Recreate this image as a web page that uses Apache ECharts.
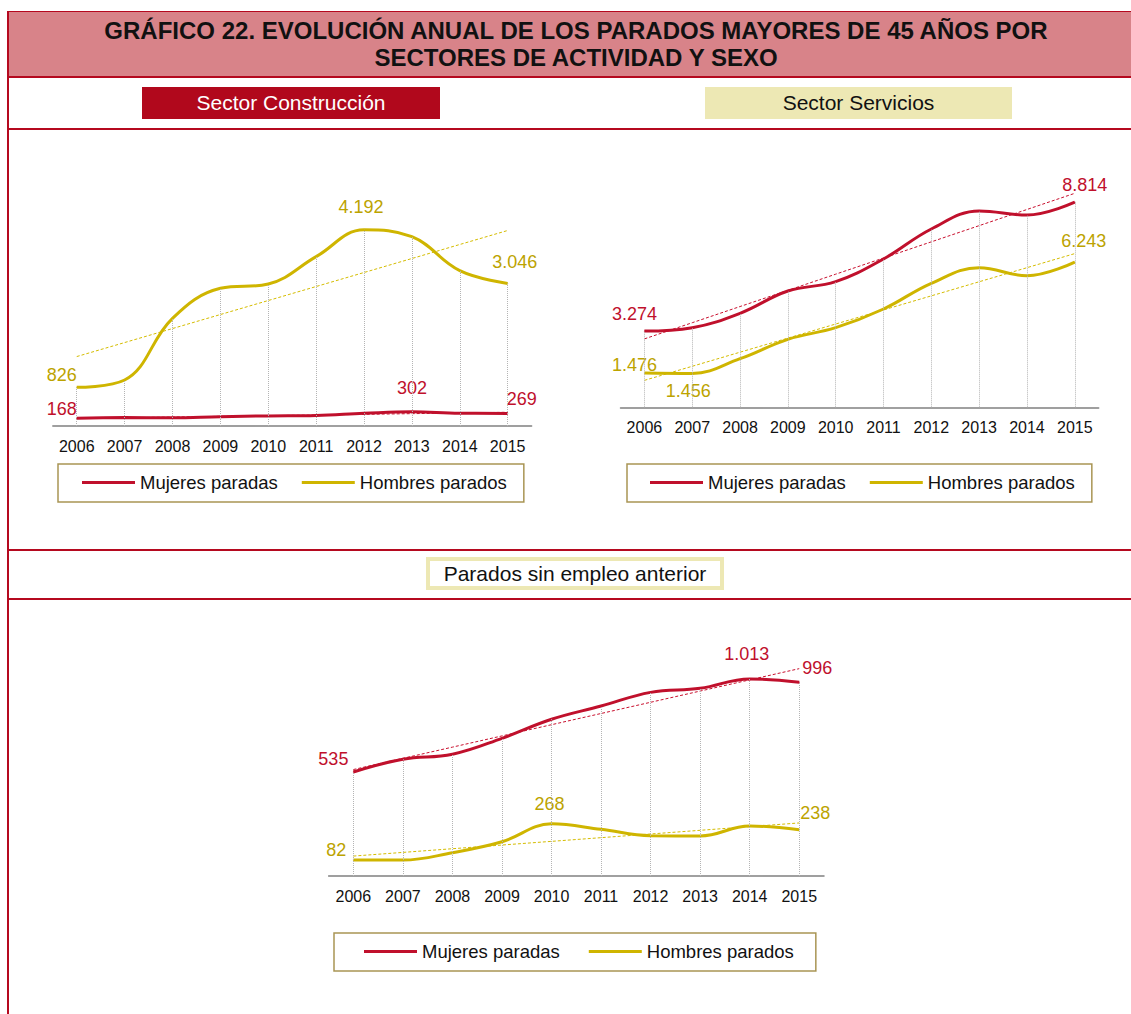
<!DOCTYPE html>
<html lang="es">
<head>
<meta charset="utf-8">
<title>Gráfico 22</title>
<script src="https://cdn.jsdelivr.net/npm/echarts@6/dist/echarts.min.js"></script>
<style>
  html, body { margin: 0; padding: 0; width: 1131px; height: 1014px; overflow: hidden; background: #fff;
    font-family: 'Liberation Sans', Arial, sans-serif; }
  .abs { position: absolute; box-sizing: border-box; }
  .borde-izq { left: 7px; top: 11px; width: 2px; height: 1003px; background: #b5091f; }
  .titulo {
    left: 9px; top: 11px; width: 1134px; height: 67px;
    background: #d88389; border-top: 1px solid #b5091f; border-bottom: 2px solid #b5091f;
    font-weight: bold; font-size: 24px; line-height: 27px; text-align: center; color: #111;
    padding-top: 5px;
  }
  .linea { left: 9px; width: 1122px; height: 2px; background: #b5091f; }
  .cab { top: 87px; height: 32px; font-size: 21px; line-height: 32px; text-align: center; }
  .cab-cons { left: 142px; width: 298px; background: #b1081c; color: #fff; }
  .cab-serv { left: 705px; width: 307px; background: #ede8b4; color: #111; }
  .cab-sin {
    left: 426px; top: 557px; width: 298px; height: 33px; border: 4px solid #ede8b4;
    font-size: 21px; line-height: 25px; text-align: center; color: #111;
  }
  #chart { left: 0; top: 0; width: 1131px; height: 1014px; }
</style>
</head>
<body>
<div class="abs titulo">GRÁFICO 22. EVOLUCIÓN ANUAL DE LOS PARADOS MAYORES DE 45 AÑOS POR<br>SECTORES DE ACTIVIDAD Y SEXO</div>
<div class="abs borde-izq"></div>
<div class="abs cab cab-cons">Sector Construcción</div>
<div class="abs cab cab-serv">Sector Servicios</div>
<div class="abs linea" style="top:128px"></div>
<div class="abs linea" style="top:549px"></div>
<div class="abs linea" style="top:598px"></div>
<div class="abs cab-sin">Parados sin empleo anterior</div>
<div id="chart" class="abs"></div>

<script>
// datos
const anios = ['2006', '2007', '2008', '2009', '2010', '2011', '2012', '2013', '2014', '2015']
const consMujeres = [168, 180, 176, 200, 215, 225, 270, 302, 271, 269]
const consHombres = [826, 983, 2301, 2942, 3034, 3618, 4192, 4045, 3319, 3046]
const servMujeres = [3274, 3421, 4040, 4998, 5398, 6373, 7662, 8436, 8264, 8814]
const servHombres = [1476, 1456, 2089, 2922, 3421, 4224, 5329, 6000, 5655, 6243]
const sinMujeres = [535, 600, 626, 708, 806, 874, 944, 965, 1013, 996]
const sinHombres = [82, 82, 120, 176, 268, 240, 207, 206, 257, 238]
const nombres = ['Mujeres paradas', 'Hombres parados']

const ROJO = '#c0102c'
const AMARILLO = '#cfb500'
const TXT_ROJO = '#c0102c'
const TXT_AMARILLO = '#bca300'
const FUENTE = "'Liberation Sans', Arial, sans-serif"

function miles(v) {
  return String(Math.round(v)).replace(/\B(?=(\d{3})+(?!\d))/g, '.')
}

// recta de tendencia lineal (mínimos cuadrados)
function tendencia(vals) {
  const n = vals.length
  const mx = (n - 1) / 2
  const my = vals.reduce((a, b) => a + b, 0) / n
  let sxy = 0, sxx = 0
  vals.forEach((v, i) => { sxy += (i - mx) * (v - my); sxx += (i - mx) * (i - mx) })
  const m = sxy / sxx
  return vals.map((_, i) => +(my + m * (i - mx)).toFixed(2))
}

// etiquetas: índice -> [posición, desplazamiento]
function serie(nombre, vals, color, txtColor, g, etiquetas) {
  return {
    name: nombre, type: 'line', xAxisIndex: g, yAxisIndex: g,
    smooth: 0.4, symbol: 'circle', symbolSize: 1, z: 4,
    lineStyle: { color, width: 3 }, itemStyle: { color },
    label: { show: false },
    data: vals.map((v, i) => {
      const e = etiquetas[i]
      if (!e) return v
      return {
        value: v,
        label: {
          show: true, position: e[0], offset: e[1], distance: 5,
          color: txtColor, fontSize: 18, fontFamily: FUENTE,
          formatter: p => miles(p.value)
        }
      }
    })
  }
}

function serieTendencia(vals, color, g, guias) {
  const s = {
    type: 'line', xAxisIndex: g, yAxisIndex: g, silent: true, z: 3,
    symbol: 'none', smooth: false,
    lineStyle: { color, width: 1, type: [3, 2] },
    data: tendencia(vals)
  }
  if (guias) {
    s.markLine = {
      silent: true, symbol: 'none', animation: false, label: { show: false },
      lineStyle: { type: 'dotted', color: '#b4b4b4', width: 1 },
      data: guias[0].map((v, i) => [
        { coord: [anios[i], 0] },
        { coord: [anios[i], Math.max(v, guias[1][i])] }
      ])
    }
  }
  return s
}

const grids = [
  { left: 52.8, top: 192, width: 478.8, height: 234 },
  { left: 620.5, top: 174.6, width: 478.2, height: 232.7 },
  { left: 328.6, top: 642.6, width: 495.4, height: 233.4 }
]
const maximos = [5000, 10000, 1200]

const leyendas = [
  { left: 58, top: 464, padding: [9, 17, 10, 24], itemGap: 24 },
  { left: 627, top: 464, padding: [9, 17, 10, 23], itemGap: 24 },
  { left: 334, top: 933, padding: [9, 22, 10, 30], itemGap: 29 }
]

const option = {
  animation: false,
  grid: grids,
  xAxis: grids.map((_, i) => ({
    type: 'category', gridIndex: i, data: anios, boundaryGap: true,
    axisTick: { show: false },
    axisLine: { lineStyle: { color: '#808080', width: 1.5 } },
    axisLabel: { color: '#111', fontSize: 16, margin: 12, fontFamily: FUENTE },
    splitLine: { show: false }
  })),
  yAxis: grids.map((_, i) => ({
    type: 'value', gridIndex: i, min: 0, max: maximos[i], show: false
  })),
  legend: leyendas.map(p => ({
    left: p.left, top: p.top, data: nombres, selectedMode: false,
    icon: 'rect', itemWidth: 53, itemHeight: 3, itemGap: p.itemGap,
    padding: p.padding, borderColor: '#a99554', borderWidth: 1.5,
    textStyle: { fontSize: 18.5, color: '#111', fontFamily: FUENTE }
  })),
  series: [
    // Sector Construcción
    serieTendencia(consHombres, '#d4bc00', 0, [consMujeres, consHombres]),
    serieTendencia(consMujeres, '#c8102e', 0),
    serie(nombres[0], consMujeres, ROJO, TXT_ROJO, 0, {
      0: ['top', [-15, 5]], 7: ['top', [0, -9]], 9: ['top', [14, 0]]
    }),
    serie(nombres[1], consHombres, AMARILLO, TXT_AMARILLO, 0, {
      0: ['top', [-15, 2]], 6: ['top', [-3, -8]], 9: ['top', [7, -7]]
    }),
    // Sector Servicios
    serieTendencia(servMujeres, '#c8102e', 1, [servMujeres, servHombres]),
    serieTendencia(servHombres, '#d4bc00', 1),
    serie(nombres[0], servMujeres, ROJO, TXT_ROJO, 1, {
      0: ['top', [-10, -3]], 9: ['top', [10, -3]]
    }),
    serie(nombres[1], servHombres, AMARILLO, TXT_AMARILLO, 1, {
      0: ['top', [-10, 7]], 1: ['bottom', [-4, 3]], 9: ['top', [9, -7]]
    }),
    // Parados sin empleo anterior
    serieTendencia(sinMujeres, '#c8102e', 2, [sinMujeres, sinHombres]),
    serieTendencia(sinHombres, '#d4bc00', 2),
    serie(nombres[0], sinMujeres, ROJO, TXT_ROJO, 2, {
      0: ['top', [-20, 2]], 8: ['top', [-3, -10]], 9: ['top', [18, 0]]
    }),
    serie(nombres[1], sinHombres, AMARILLO, TXT_AMARILLO, 2, {
      0: ['top', [-17, 4]], 4: ['top', [-2, -5]], 9: ['top', [16, -2]]
    })
  ]
}

const chart = echarts.init(document.getElementById('chart'), null, { renderer: 'svg' })
chart.setOption(option)
</script>
</body>
</html>
